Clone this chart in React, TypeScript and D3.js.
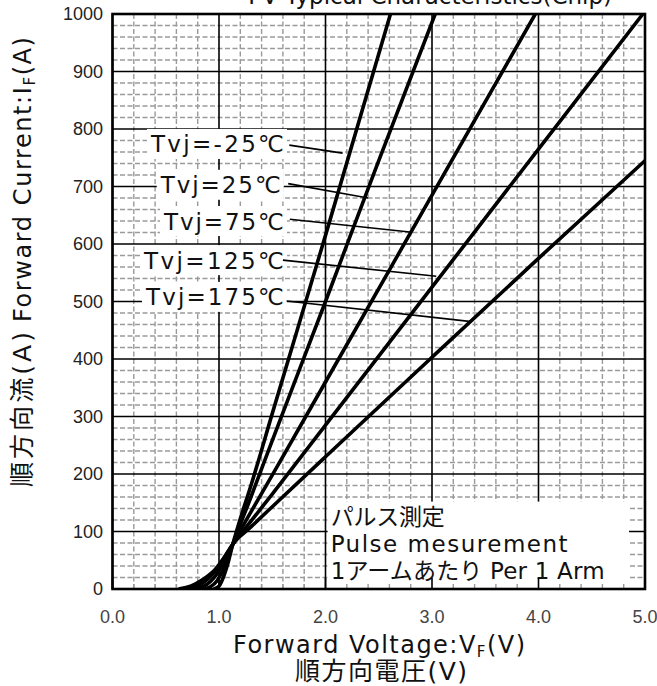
import React from "react";
import * as d3 from "d3";

// ---- data ----
const xTicks = [0, 1, 2, 3, 4, 5];
const xTickLabels = ["0.0", "1.0", "2.0", "3.0", "4.0", "5.0"];
const yTicks = [0, 100, 200, 300, 400, 500, 600, 700, 800, 900, 1000];

const tempLabels = ["Tvj=-25℃", "Tvj=25℃", "Tvj=75℃", "Tvj=125℃", "Tvj=175℃"];

// Forward voltage (V) / forward current (A) per junction temperature
const vfM25 = [0.95, 1.0, 1.04, 1.08, 1.13, 1.2, 1.3, 1.5, 2.0, 2.61];
const ifM25 = [0, 5, 20, 42, 78, 122, 180, 305, 615, 1000];
const vf25 = [0.86, 0.92, 0.98, 1.03, 1.08, 1.13, 1.3, 1.5, 2.0, 2.5, 3.03];
const if25 = [0, 4, 14, 30, 52, 78, 160, 258, 500, 745, 1000];
const vf75 = [0.78, 0.85, 0.92, 0.98, 1.04, 1.13, 1.3, 1.5, 2.0, 3.0, 3.97];
const if75 = [0, 4, 13, 26, 45, 78, 134, 198, 360, 685, 1000];
const vf125 = [0.7, 0.78, 0.86, 0.94, 1.02, 1.13, 1.3, 1.5, 2.0, 3.0, 4.0, 4.98];
const if125 = [0, 4, 12, 26, 46, 78, 118, 165, 285, 525, 765, 1000];
const vf175 = [0.62, 0.7, 0.78, 0.87, 0.96, 1.05, 1.13, 1.3, 1.5, 2.0, 3.0, 4.0, 5.0];
const if175 = [0, 3, 9, 19, 33, 55, 78, 108, 143, 230, 403, 575, 745];

const seriesV = [vfM25, vf25, vf75, vf125, vf175];
const seriesA = [ifM25, if25, if75, if125, if175];

// label anchor (right edge of text) and leader line ends, in data units
const labelV = [1.61, 1.58, 1.61, 1.61, 1.61];
const labelA = [774, 703, 640, 572, 508];
const leaderStartV = [1.66, 1.65, 1.665, 1.6, 1.635];
const leaderStartA = [772, 705, 643, 572, 501];
const leaderEndV = [2.16, 2.4, 2.79, 3.04, 3.37];
const leaderEndA = [758, 680, 621, 544, 465];
const labelWidths = [133, 120, 120, 140, 138];

const noteLines = ["パルス測定", "Pulse mesurement", "1アームあたり Per 1 Arm"];
const noteWidths = [114, 237, 274];

const W = 657;
const H = 686;
const M = { left: 112.5, right: 645, top: 14, bottom: 589 };

const UI = "'DejaVu Sans', 'Noto Sans CJK JP', sans-serif";
const ARIAL = "'Liberation Sans', Arial, sans-serif";

export default function App() {
  const x = d3.scaleLinear().domain([0, 5]).range([M.left, M.right]);
  const y = d3.scaleLinear().domain([0, 1000]).range([M.bottom, M.top]);

  const minorX = d3.range(0, 5.0001, 0.2).filter((v) => Math.abs(v - Math.round(v)) > 1e-6);
  const minorY = d3.range(0, 1000.1, 20).filter((v) => v % 100 !== 0);

  const line = d3
    .line<[number, number]>()
    .x((d) => x(d[0]))
    .y((d) => y(d[1]))
    .curve(d3.curveMonotoneX);

  const boxX0 = x(2.02);
  const boxX1 = x(4.85);
  const boxY0 = y(152);

  return (
    <svg
      width={W}
      height={H}
      style={{ position: "absolute", left: 0, top: 0, background: "#fff" }}
    >
      <defs>
        <clipPath id="plot">
          <rect x={M.left} y={M.top} width={M.right - M.left} height={M.bottom - M.top} />
        </clipPath>
      </defs>
      <rect x={0} y={0} width={W} height={H} fill="#fff" />

      {/* title (cut off at top) */}
      <text x={612} y={4} textAnchor="end" fontFamily={UI} fontSize={23} fill="#111">
        I-V Typical Characteristics(Chip)
      </text>

      {/* minor grid */}
      <g stroke="#9a9a9a" strokeWidth={1.4} strokeDasharray="5,2.5">
        {minorX.map((v) => (
          <line key={"mx" + v} x1={x(v)} x2={x(v)} y1={M.top} y2={M.bottom} />
        ))}
        {minorY.map((v) => (
          <line key={"my" + v} x1={M.left} x2={M.right} y1={y(v)} y2={y(v)} />
        ))}
      </g>
      {/* major grid */}
      <g stroke="#000" strokeWidth={1.6}>
        {xTicks.map((v) => (
          <line key={"Mx" + v} x1={x(v)} x2={x(v)} y1={M.top} y2={M.bottom} />
        ))}
        {yTicks.map((v) => (
          <line key={"My" + v} x1={M.left} x2={M.right} y1={y(v)} y2={y(v)} />
        ))}
      </g>

      {/* note box */}
      <rect x={boxX0} y={boxY0} width={boxX1 - boxX0} height={M.bottom - boxY0} fill="#fff" />
      {noteLines.map((t, i) => (
        <text
          key={t}
          x={boxX0 + 3}
          y={boxY0 + 23 + i * 27}
          fontFamily={UI}
          fontSize={23}
          textLength={noteWidths[i]}
          lengthAdjust="spacing"
          fill="#111"
        >
          {t}
        </text>
      ))}
      {/* bottom inner ticks (visible through the note box) */}
      <g>
        {minorX.map((v) => (
          <line key={"tx" + v} x1={x(v)} x2={x(v)} y1={M.bottom} y2={M.bottom - 5} stroke="#9a9a9a" strokeWidth={1.4} />
        ))}
        {xTicks.map((v) => (
          <line key={"Tx" + v} x1={x(v)} x2={x(v)} y1={M.bottom} y2={M.bottom - 11} stroke="#000" strokeWidth={1.6} />
        ))}
      </g>

      {/* label backgrounds */}
      {tempLabels.map((t, i) => (
        <rect
          key={"bg" + t}
          x={x(labelV[i]) - labelWidths[i] - 4}
          y={y(labelA[i]) - 15}
          width={labelWidths[i] + 7}
          height={30}
          fill="#fff"
        />
      ))}

      {/* curves */}
      <g clipPath="url(#plot)" fill="none" stroke="#000" strokeWidth={3.6} strokeLinejoin="round">
        {seriesV.map((vs, i) => (
          <path
            key={"c" + i}
            d={line(vs.map((v, j) => [v, seriesA[i][j]] as [number, number])) || ""}
          />
        ))}
      </g>

      {/* leaders */}
      <g stroke="#000" strokeWidth={1.6}>
        {tempLabels.map((t, i) => (
          <line
            key={"ld" + t}
            x1={x(leaderStartV[i])}
            y1={y(leaderStartA[i])}
            x2={x(leaderEndV[i])}
            y2={y(leaderEndA[i])}
          />
        ))}
      </g>

      {/* labels */}
      {tempLabels.map((t, i) => (
        <text
          key={"lb" + t}
          x={x(labelV[i])}
          y={y(labelA[i])}
          dy="0.37em"
          textAnchor="end"
          fontFamily={UI}
          fontSize={23}
          textLength={labelWidths[i]}
          lengthAdjust="spacing"
          fill="#111"
        >
          {t}
        </text>
      ))}

      {/* frame */}
      <rect
        x={M.left}
        y={M.top}
        width={M.right - M.left}
        height={M.bottom - M.top}
        fill="none"
        stroke="#000"
        strokeWidth={2.6}
      />

      {/* tick labels */}
      {yTicks.map((v) => (
        <text
          key={"yl" + v}
          x={103}
          y={y(v)}
          dy="0.36em"
          textAnchor="end"
          fontFamily={ARIAL}
          fontSize={18}
          fill="#222"
        >
          {v}
        </text>
      ))}
      {xTicks.map((v, i) => (
        <text
          key={"xl" + v}
          x={x(v)}
          y={623}
          textAnchor="middle"
          fontFamily={ARIAL}
          fontSize={18}
          fill="#444"
        >
          {xTickLabels[i]}
        </text>
      ))}

      {/* axis titles */}
      <text
        x={379}
        y={653}
        textAnchor="middle"
        fontFamily={UI}
        fontSize={24}
        textLength={292}
        lengthAdjust="spacing"
        fill="#111"
      >
        Forward Voltage:V
        <tspan fontSize={15} dy={4}>F</tspan>
        <tspan dy={-4}>(V)</tspan>
      </text>
      <text
        x={381}
        y={680}
        textAnchor="middle"
        fontFamily={UI}
        fontSize={25}
        textLength={172}
        lengthAdjust="spacing"
        fill="#111"
      >
        順方向電圧(V)
      </text>
      <text
        transform={`translate(31,${487}) rotate(-90)`}
        textAnchor="start"
        fontFamily={UI}
        fontSize={25}
        textLength={155}
        lengthAdjust="spacing"
        fill="#111"
      >
        順方向流(A)
      </text>
      <text
        transform={`translate(31,${322}) rotate(-90)`}
        textAnchor="start"
        fontFamily={UI}
        fontSize={24}
        textLength={285}
        lengthAdjust="spacing"
        fill="#111"
      >
        Forward Current:I
        <tspan fontSize={15} dy={4}>F</tspan>
        <tspan dy={-4}>(A)</tspan>
      </text>
    </svg>
  );
}
